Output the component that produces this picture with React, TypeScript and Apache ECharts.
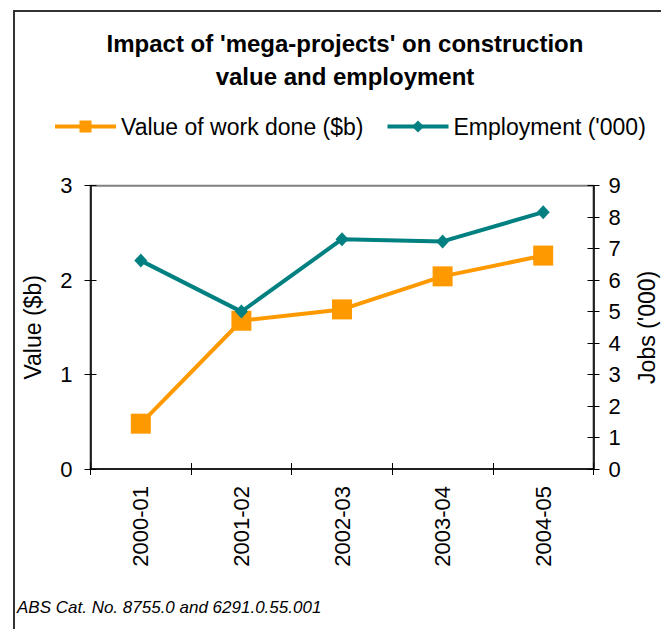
import React, { useEffect, useRef } from "react";
import * as echarts from "echarts";

const categories = ["2000-01", "2001-02", "2002-03", "2003-04", "2004-05"];
const valueOfWork = [0.48, 1.57, 1.69, 2.04, 2.26];
const employment = [6.62, 5.0, 7.3, 7.23, 8.16];
const titleLines = ["Impact of 'mega-projects' on construction", "value and employment"];
const seriesNames = ["Value of work done ($b)", "Employment ('000)"];
const leftAxisName = "Value ($b)";
const rightAxisName = "Jobs ('000)";
const footnote = "ABS Cat. No. 8755.0 and 6291.0.55.001";

const FONT = "'Liberation Sans', Arial, Helvetica, sans-serif";
const ORANGE = "#FF9900";
const TEAL = "#008080";

export default function App() {
  const ref = useRef<HTMLDivElement>(null);
  useEffect(() => {
    if (!ref.current) return;
    const chart = echarts.init(ref.current, undefined, { renderer: "svg" });
    const tickOut = { show: true, inside: false, length: 6, lineStyle: { color: "#000", width: 1 } };
    const tickIn = { show: true, inside: true, length: 6, lineStyle: { color: "#000", width: 1 } };
    const labelStyle = { color: "#000", fontFamily: FONT, fontSize: 22 };
    const option: any = {
      animation: false,
      backgroundColor: "#fff",
      textStyle: { fontFamily: FONT },
      grid: {
        left: 90.5,
        top: 185.7,
        right: 67.5,
        bottom: 160,
        show: true,
        borderColor: "#808080",
        borderWidth: 2,
        backgroundColor: "transparent",
        containLabel: false,
        outerBoundsMode: "none",
      },
      legend: {
        left: 48,
        top: 110,
        itemWidth: 61,
        itemHeight: 15,
        itemGap: 22,
        lineStyle: { width: 4 },
        textStyle: { color: "#000", fontFamily: FONT, fontSize: 23 },
        data: seriesNames,
      },
      xAxis: [
        {
          type: "category",
          data: categories,
          position: "bottom",
          boundaryGap: true,
          axisLine: { show: true, lineStyle: { color: "#000", width: 1.5 } },
          axisTick: tickOut,
          axisLabel: { ...labelStyle, rotate: 90, margin: 17 },
          splitLine: { show: false },
        },
        {
          type: "category",
          data: categories,
          position: "bottom",
          boundaryGap: true,
          axisLine: { show: false },
          axisTick: tickIn,
          axisLabel: { show: false },
          splitLine: { show: false },
        },
      ],
      yAxis: [
        {
          type: "value",
          position: "left",
          min: 0,
          max: 3,
          interval: 1,
          name: leftAxisName,
          nameLocation: "middle",
          nameRotate: 90,
          nameGap: 46,
          nameTextStyle: { color: "#000", fontFamily: FONT, fontSize: 23 },
          axisLine: { show: true, lineStyle: { color: "#000", width: 1.5 } },
          axisTick: tickOut,
          axisLabel: { ...labelStyle, margin: 18 },
          splitLine: { show: false },
        },
        {
          type: "value",
          position: "right",
          min: 0,
          max: 9,
          interval: 1,
          name: rightAxisName,
          nameLocation: "middle",
          nameRotate: 90,
          nameGap: 42,
          nameTextStyle: { color: "#000", fontFamily: FONT, fontSize: 23 },
          axisLine: { show: true, lineStyle: { color: "#000", width: 1.5 } },
          axisTick: tickOut,
          axisLabel: { ...labelStyle, margin: 15 },
          splitLine: { show: false },
        },
        {
          type: "value",
          position: "left",
          min: 0,
          max: 3,
          interval: 1,
          axisLine: { show: false },
          axisTick: tickIn,
          axisLabel: { show: false },
          splitLine: { show: false },
        },
        {
          type: "value",
          position: "right",
          min: 0,
          max: 9,
          interval: 1,
          axisLine: { show: false },
          axisTick: tickIn,
          axisLabel: { show: false },
          splitLine: { show: false },
        },
      ],
      series: [
        {
          name: seriesNames[0],
          type: "line",
          xAxisIndex: 0,
          yAxisIndex: 0,
          data: valueOfWork,
          symbol: "rect",
          symbolSize: 20,
          lineStyle: { color: ORANGE, width: 4 },
          itemStyle: { color: ORANGE },
          z: 2,
        },
        {
          name: seriesNames[1],
          type: "line",
          xAxisIndex: 0,
          yAxisIndex: 1,
          data: employment,
          symbol: "diamond",
          symbolSize: [13, 14],
          lineStyle: { color: TEAL, width: 4 },
          itemStyle: { color: TEAL },
          z: 3,
        },
      ],
      graphic: [
        {
          type: "polyline",
          shape: { points: [[14, 629], [14, 11], [661, 11]] },
          style: { stroke: "#333", lineWidth: 2, fill: "none" },
          silent: true,
        },
        {
          type: "text",
          x: 345,
          y: 43,
          style: {
            text: titleLines[0],
            textAlign: "center",
            textVerticalAlign: "middle",
            font: `bold 24px ${FONT}`,
            fill: "#000",
          },
        },
        {
          type: "text",
          x: 345,
          y: 76,
          style: {
            text: titleLines[1],
            textAlign: "center",
            textVerticalAlign: "middle",
            font: `bold 24px ${FONT}`,
            fill: "#000",
          },
        },
        {
          type: "text",
          x: 17,
          y: 607,
          style: {
            text: footnote,
            textAlign: "left",
            textVerticalAlign: "middle",
            font: `italic 17px ${FONT}`,
            fill: "#000",
          },
        },
      ],
    };
    chart.setOption(option);
    return () => chart.dispose();
  }, []);
  return (
    <div
      ref={ref}
      style={{ position: "absolute", left: 0, top: 0, width: 661, height: 629 }}
    />
  );
}
